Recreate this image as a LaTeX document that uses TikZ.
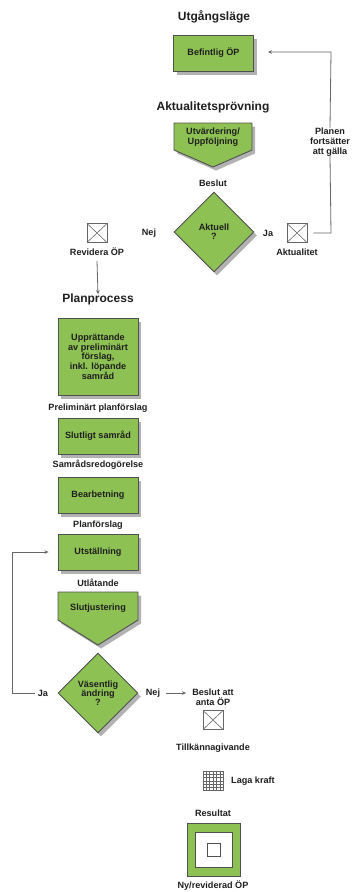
\documentclass[tikz,border=0pt]{standalone}
\usepackage{fontspec}
\setmainfont{Liberation Sans}
\usetikzlibrary{shapes.geometric,arrows.meta,shadows,calc}
\definecolor{boxgreen}{HTML}{8DC153}
\definecolor{bordergray}{HTML}{505050}
\definecolor{linegray}{HTML}{666666}
\definecolor{textcol}{HTML}{1E1E1E}
\tikzset{
  shad/.style={drop shadow={shadow xshift=3pt,shadow yshift=-3.5pt,opacity=0.3,fill=black}},
  gbox/.style={draw=bordergray, line width=0.9pt, fill=boxgreen, shad},
  box/.style={gbox, minimum width=80pt, minimum height=36pt, inner sep=1pt, align=center, text=textcol,
    font=\bfseries\fontsize{9.1}{9.7}\selectfont},
  dia/.style={gbox, diamond, minimum width=80pt, minimum height=80pt, inner sep=0pt, align=center, text=textcol,
    font=\bfseries\fontsize{9.1}{9.2}\selectfont},
  btext/.style={inner sep=0pt, align=center, text=textcol, font=\bfseries\fontsize{9.1}{9.7}\selectfont},
  lbl/.style={inner sep=0pt, align=center, text=textcol, font=\bfseries\fontsize{9.1}{9.7}\selectfont},
  ttl/.style={inner sep=0pt, text=textcol, font=\bfseries\fontsize{12}{14}\selectfont},
  icon/.style={draw=linegray, line width=0.7pt, minimum width=20pt, minimum height=19pt, inner sep=0pt},
  xicon/.style={icon, path picture={\draw[linegray, line width=0.6pt]
      (path picture bounding box.north west) -- (path picture bounding box.south east)
      (path picture bounding box.north east) -- (path picture bounding box.south west);}},
  conn/.style={draw=linegray, line width=0.8pt},
  arr/.style={conn, -{Stealth[length=4pt,width=3.6pt]}},
}
\begin{document}
\begin{tikzpicture}[x=1pt,y=-1pt]
\useasboundingbox (0,0) rectangle (351,892);

% Titles
\node[ttl] (t1) at (214,17) {Utgångsläge};
\node[ttl] (t2) at (213,107) {Aktualitetsprövning};
\node[ttl] (t3) at (98,299) {Planprocess};

% Befintlig
\node[box, minimum height=36pt, minimum width=80pt] (bef) at (213.5,53) {Befintlig ÖP};

% Utvardering pentagon
\path[gbox] (174,123) -- (252,123) -- (252,150) -- (213,167) -- (174,150) -- cycle;
\node[btext] (utv) at (213,137) {Utvärdering/\\Uppföljning};
\node[lbl] (beslut) at (213,183) {Beslut};

% Diamond Aktuell
\node[dia] (akt) at (214,232) {Aktuell\\?};
\node[lbl] (nej1) at (149,233) {Nej};
\node[lbl] (ja1) at (268,233) {Ja};
\node[xicon] (revicon) at (97,233) {};
\node[xicon] (akticon) at (297,233) {};
\node[lbl] (rev) at (97,252) {Revidera ÖP};
\node[lbl] (aktlbl) at (297,252) {Aktualitet};
\node[lbl] (planen) at (330,142) {Planen\\fortsätter\\att gälla};

\coordinate (c1) at (331,233);
\coordinate (c2) at (331,52);
\draw[conn] (akticon.east) ++(6,0) -- (c1) -- (planen.south);
\draw[arr] (planen.north) -- (c2) -- ([xshift=14pt,yshift=1pt]bef.east);

\draw[arr] (rev.south) ++(0,5) -- ([yshift=-1pt]t3.north);

% Plan process boxes
\node[box, minimum height=77pt] (upp) at (98,356.5) {Upprättande\\av preliminärt\\förslag,\\inkl. löpande\\samråd};
\node[lbl] (prel) at (98,408) {Preliminärt planförslag};
\node[box] (slut) at (98,436) {Slutligt samråd};
\node[lbl] (samr) at (98,465) {Samrådsredogörelse};
\node[box] (bear) at (98,495) {Bearbetning};
\node[lbl] (planf) at (98,525) {Planförslag};
\node[box] (utst) at (98,552) {Utställning};
\node[lbl] (utl) at (98,583) {Utlåtande};

\path[gbox] (58,592) -- (138,592) -- (138,620) -- (98,645) -- (58,620) -- cycle;
\node[btext] (sj) at (98,608) {Slutjustering};

\node[dia] (vas) at (98,693) {Väsentlig\\ändring\\?};
\node[lbl] (ja2) at (43,693) {Ja};
\node[lbl] (nej2) at (153,693) {Nej};
\coordinate (l1) at (12,693);
\coordinate (l2) at (12,552);
\draw[arr] (ja2.west) ++(-3,0) -- (l1) -- (l2) -- ([xshift=-9pt]utst.west);

\node[lbl] (besl2) at (213,697.5) {Beslut att\\anta ÖP};
\draw[arr] ([xshift=6pt]nej2.east) -- ([xshift=-6pt]nej2.east -| besl2.west);

\node[xicon] (tillicon) at (213,720) {};
\node[lbl] (till) at (213,748) {Tillkännagivande};

\node[icon] (lagaicon) at (213,781) {};
\foreach \i in {1,...,5}{
  \draw[linegray, line width=0.5pt] ($(lagaicon.north west)!\i/6!(lagaicon.north east)$) -- ($(lagaicon.south west)!\i/6!(lagaicon.south east)$);
  \draw[linegray, line width=0.5pt] ($(lagaicon.north west)!\i/6!(lagaicon.south west)$) -- ($(lagaicon.north east)!\i/6!(lagaicon.south east)$);
}
\node[lbl, anchor=west] (laga) at (231,781) {Laga kraft};

\node[lbl] (res) at (213,813) {Resultat};
\node[draw=bordergray, line width=0.8pt, fill=boxgreen, minimum width=53pt, minimum height=53pt, inner sep=0pt] (resout) at (213.5,849.5) {};
\node[draw=bordergray, line width=0.8pt, fill=white, minimum width=37pt, minimum height=35pt, inner sep=0pt] (resin) at (213.5,849.5) {};
\node[draw=bordergray, line width=0.7pt, fill=white, minimum width=13pt, minimum height=13pt, inner sep=0pt] (ressm) at (213.5,849.5) {};
\node[lbl] (ny) at (213,886) {Ny/reviderad ÖP};
\end{tikzpicture}
\end{document}
